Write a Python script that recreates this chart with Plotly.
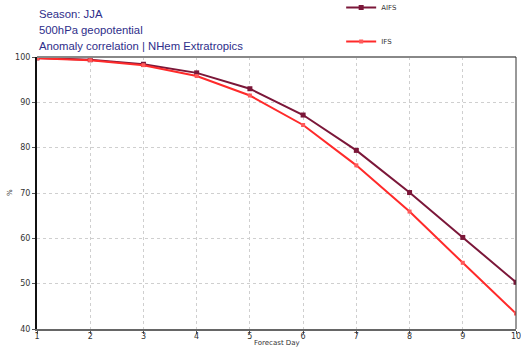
import plotly.graph_objects as go

days = [1, 2, 3, 4, 5, 6, 7, 8, 9, 10]
aifs = [99.8, 99.4, 98.4, 96.5, 93.0, 87.2, 79.4, 70.1, 60.2, 50.3]
ifs = [99.7, 99.3, 98.2, 95.8, 91.5, 85.0, 76.1, 65.9, 54.6, 43.4]
title_lines = ["Season: JJA", "500hPa geopotential", "Anomaly correlation | NHem Extratropics"]
x_ticks = list(range(1, 11))
y_ticks = [40, 50, 60, 70, 80, 90, 100]

fig = go.Figure()
fig.add_trace(go.Scatter(x=days, y=aifs, name="AIFS", mode="lines+markers",
                         line=dict(color="#7b1739", width=2),
                         marker=dict(symbol="square", size=5, color="#7b1739"),
                         legendgroup="a"))
fig.add_trace(go.Scatter(x=days, y=ifs, name="IFS", mode="lines+markers",
                         line=dict(color="#ff2a2a", width=2),
                         marker=dict(symbol="square", size=4, color="#ff5a5a"),
                         legendgroup="b"))

fig.update_layout(
    width=521, height=347,
    margin=dict(l=37, r=5, t=57, b=18, autoexpand=False),
    paper_bgcolor="white", plot_bgcolor="white",
    font=dict(family="DejaVu Sans", size=8, color="#333"),
    showlegend=True,
    legend=dict(x=0.635, y=1.235, xanchor="left", yanchor="top",
                tracegroupgap=15, itemwidth=30,
                font=dict(family="DejaVu Sans", size=7, color="#333"),
                bgcolor="rgba(0,0,0,0)"),
    xaxis=dict(range=[1, 10], tickvals=x_ticks, ticks="outside", ticklen=3,
               ticklabelstandoff=-5, ticklabeloverflow="allow",
               tickcolor="#555", showgrid=True, gridcolor="#cfcfcf", griddash="dot",
               gridwidth=1, showline=True, linecolor="#666", linewidth=2,
               mirror=False, zeroline=False,
               tickfont=dict(size=8, color="#333")),
    yaxis=dict(range=[40, 100], tickvals=y_ticks, ticks="outside", ticklen=3,
               tickcolor="#555", showgrid=True, gridcolor="#cfcfcf", griddash="dot",
               gridwidth=1, showline=True, linecolor="#111", linewidth=2,
               zeroline=False, tickfont=dict(size=8, color="#333")),
)
# top border and right border lines
fig.add_shape(type="line", xref="paper", yref="paper", x0=0, x1=1, y0=1, y1=1,
              line=dict(color="#888", width=2))
fig.add_shape(type="line", xref="paper", yref="paper", x0=1, x1=1, y0=0, y1=1,
              line=dict(color="#333", width=1))

for i, t in enumerate(title_lines):
    fig.add_annotation(text=t, xref="paper", yref="paper", x=0.0, y=1.0 + (43 - i * 16) / 272,
                       xanchor="left", yanchor="middle", showarrow=False,
                       font=dict(family="Liberation Sans", size=11.3, color="#2e2e8a"))

fig.add_annotation(text="%", xref="paper", yref="paper", x=-27 / 479, y=0.5,
                   textangle=-90, showarrow=False, xanchor="center", yanchor="middle",
                   font=dict(size=7, color="#333"))
fig.add_annotation(text="Forecast Day", xref="paper", yref="paper", x=(277 - 37) / 479,
                   y=-14 / 272, showarrow=False, xanchor="center", yanchor="middle",
                   font=dict(size=7, color="#333"))

fig.write_html("out.html", config={"displayModeBar": False},
               post_script="document.body.style.margin='0px';")
